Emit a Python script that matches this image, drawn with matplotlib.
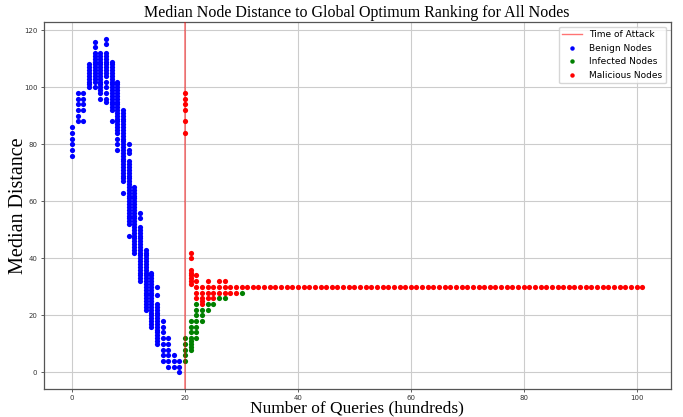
import matplotlib
matplotlib.use('Agg')
import matplotlib.pyplot as plt
from matplotlib.lines import Line2D

# ---- data (query index in hundreds -> median distance values) ----
benign = {
    0: [76, 78, 80, 82, 84, 86],
    1: [88, 90, 92, 94, 96, 98],
    2: [88, 92, 94, 96, 98],
    3: [100, 101, 102, 103, 104, 105, 106, 107, 108],
    4: [100, 102, 103, 104, 105, 106, 107, 108, 109, 110, 111, 112, 114, 116],
    5: [96, 98, 99, 100, 101, 102, 103, 104, 105, 106, 107, 108, 109, 110, 111, 112],
    6: [95, 96, 98, 100, 102, 104, 105, 106, 107, 108, 109, 110, 111, 112, 115, 117],
    7: [88, 92, 93, 94, 95, 96, 97, 98, 99, 100, 101, 102, 103, 104, 105, 106, 107, 108, 109],
    8: [78, 80, 82, 84, 85, 86, 87, 88, 89, 90, 91, 92, 93, 94, 95, 96, 97, 98, 99, 100, 101, 102],
    9: [63, 67, 68, 69, 70, 71, 72, 73, 74, 75, 76, 77, 78, 79, 80, 81, 82, 83, 84, 85, 86, 87,
        88, 89, 90, 91, 92],
    10: [48, 52, 53, 54, 55, 56, 57, 58, 59, 60, 61, 62, 63, 64, 65, 66, 67, 68, 69, 70, 71, 72,
         73, 74, 77, 78, 80],
    11: [42, 43, 44, 45, 46, 47, 48, 49, 50, 51, 52, 53, 54, 55, 56, 57, 58, 59, 60, 61, 62, 63,
         64, 65],
    12: [32, 33, 34, 35, 36, 37, 38, 39, 40, 41, 42, 43, 44, 45, 46, 47, 48, 49, 50, 51, 54, 56],
    13: [22, 23, 24, 25, 26, 27, 28, 29, 30, 31, 32, 33, 34, 35, 36, 37, 38, 39, 40, 41, 42, 43],
    14: [16, 17, 18, 19, 20, 21, 22, 23, 24, 25, 26, 27, 28, 29, 30, 31, 32, 33, 34, 35],
    15: [10, 11, 12, 13, 14, 15, 16, 17, 18, 19, 20, 21, 22, 23, 24, 27, 30],
    16: [4, 6, 8, 10, 12, 14, 16, 18],
    17: [2, 4, 6, 8, 10, 12],
    18: [2, 4, 6],
    19: [0, 2, 4],
}

infected = {
    20: [4, 6, 8, 10, 12],
    21: [8, 9, 10, 11, 12, 14, 16, 18],
    22: [12, 14, 16, 18, 20, 22, 24],
    23: [18, 20, 22],
    24: [22, 24],
    25: [24],
    26: [26],
    27: [26],
    30: [28],
}

malicious = {
    20: [84, 88, 92, 94, 96, 98],
    21: [31, 32, 33, 34, 35, 36, 40, 42],
    22: [26, 28, 30, 32, 34],
    23: [24, 25, 26, 28, 30],
    24: [26, 28, 30, 32],
    25: [26, 28, 30],
    26: [28, 30, 32],
    27: [28, 30, 32],
    28: [28, 30],
    29: [28, 30],
}
malicious_tail_x = [30, 31, 32, 33, 34, 35, 36, 37, 38, 39, 40, 41, 42, 43, 44, 45, 46, 47, 48, 49,
                    50, 51, 52, 53, 54, 55, 56, 57, 58, 59, 60, 61, 62, 63, 64, 65, 66, 67, 68, 69,
                    70, 71, 72, 73, 74, 75, 76, 77, 78, 79, 80, 81, 82, 83, 84, 85, 86, 87, 88, 89,
                    90, 91, 92, 93, 94, 95, 96, 97, 98, 99, 100, 101]
malicious_tail_value = 30

attack_time = 20


def flatten(d):
    xs, ys = [], []
    for k, vals in d.items():
        for v in vals:
            xs.append(k)
            ys.append(v)
    return xs, ys


bx, by = flatten(benign)
gx, gy = flatten(infected)
rx, ry = flatten(malicious)
rx += malicious_tail_x
ry += [malicious_tail_value] * len(malicious_tail_x)

fig = plt.figure(figsize=(6.83, 4.17), dpi=100)
ax = fig.add_axes([0.064, 0.067, 0.918, 0.88])

ms = 14
ax.scatter(bx, by, s=ms, color='blue', linewidths=0, zorder=2)
ax.scatter(gx, gy, s=ms, color='green', linewidths=0, zorder=2)
ax.scatter(rx, ry, s=ms, color='red', linewidths=0, zorder=2)
ax.axvline(attack_time, color='red', alpha=0.55, linewidth=1.1, zorder=3)

ax.set_xticks([0, 20, 40, 60, 80, 100])
ax.set_yticks([0, 20, 40, 60, 80, 100, 120])
ax.tick_params(labelsize=5, length=2.5, width=0.6, pad=2, color='#444444', labelcolor='#333333')
ax.grid(True, color='#cccccc', linewidth=0.8)
ax.set_axisbelow(True)
for sp in ax.spines.values():
    sp.set_color('#555555')
    sp.set_linewidth(0.9)

serif = ['Liberation Serif', 'DejaVu Serif']
ax.set_title('Median Node Distance to Global Optimum Ranking for All Nodes',
             fontsize=11.5, family=serif, pad=4)
ax.set_xlabel('Number of Queries (hundreds)', fontsize=12.5, family=serif, labelpad=-1)
ax.set_ylabel('Median Distance', fontsize=14.5, family=serif, labelpad=-3)

handles = [
    Line2D([0], [0], color='red', alpha=0.55, linewidth=1.0),
    Line2D([0], [0], marker='o', linestyle='none', color='blue', markersize=2.2),
    Line2D([0], [0], marker='o', linestyle='none', color='green', markersize=2.2),
    Line2D([0], [0], marker='o', linestyle='none', color='red', markersize=2.2),
]
labels = ['Time of Attack', 'Benign Nodes', 'Infected Nodes', 'Malicious Nodes']
ax.legend(handles, labels, loc='upper right', fontsize=6.5, framealpha=0.8,
          borderaxespad=0.5, handlelength=2.2)

fig.savefig('out.png', dpi=100)
